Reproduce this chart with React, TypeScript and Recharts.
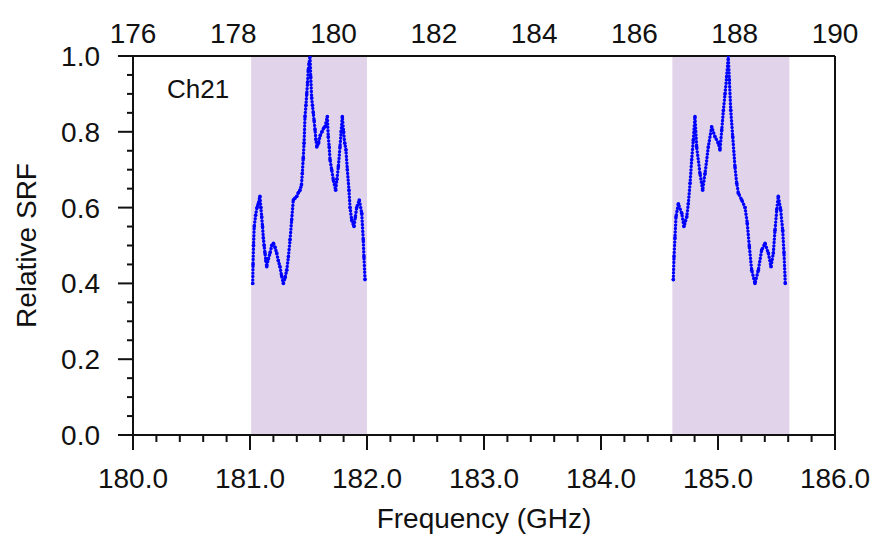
import { ComposedChart, Line, ReferenceArea, ReferenceLine, XAxis, YAxis } from "recharts";

const FONT = "'Liberation Sans', Arial, Helvetica, sans-serif";
const INK = "#111";
const BLUE = "#0000ff";
const BAND = "#e0d3ea";

const channel = "Ch21";

// lower sideband, GHz / relative SRF
const lowerFreq = [
  181.023, 181.026, 181.03, 181.036, 181.048, 181.06, 181.071, 181.085, 181.093, 181.1,
  181.107, 181.114, 181.121, 181.128, 181.136, 181.143, 181.157, 181.171, 181.186, 181.2,
  181.214, 181.228, 181.242, 181.256, 181.27, 181.285, 181.3, 181.314, 181.328, 181.342,
  181.356, 181.37, 181.385, 181.4, 181.414, 181.427, 181.44, 181.447, 181.455, 181.462,
  181.47, 181.478, 181.485, 181.492, 181.498, 181.505, 181.513, 181.519, 181.527, 181.534,
  181.541, 181.548, 181.556, 181.563, 181.571, 181.585, 181.6, 181.615, 181.63, 181.641,
  181.661, 181.669, 181.677, 181.684, 181.698, 181.712, 181.732, 181.743, 181.755, 181.769,
  181.779, 181.789, 181.8, 181.81, 181.82, 181.832, 181.846, 181.855, 181.869, 181.889,
  181.9, 181.912, 181.934, 181.955, 181.968, 181.974, 181.983,
];
const lowerSrf = [
  0.4, 0.45, 0.5, 0.55, 0.58, 0.6, 0.61, 0.63, 0.6, 0.576,
  0.55, 0.52, 0.5, 0.48, 0.46, 0.444, 0.465, 0.48, 0.5, 0.506,
  0.495, 0.48, 0.46, 0.444, 0.42, 0.4, 0.415, 0.435, 0.47, 0.515,
  0.567, 0.62, 0.625, 0.63, 0.64, 0.646, 0.66, 0.69, 0.73, 0.77,
  0.84, 0.87, 0.9, 0.93, 0.963, 0.98, 1.0, 0.945, 0.89, 0.87,
  0.85, 0.83, 0.805, 0.78, 0.76, 0.77, 0.79, 0.8, 0.81, 0.813,
  0.84, 0.787, 0.76, 0.726, 0.7, 0.673, 0.646, 0.675, 0.708, 0.76,
  0.8, 0.84, 0.8, 0.77, 0.752, 0.7, 0.646, 0.6, 0.567, 0.55,
  0.575, 0.6, 0.62, 0.585, 0.515, 0.47, 0.41,
];

// upper sideband
const upperFreq = [
  184.618, 184.624, 184.632, 184.641, 184.661, 184.69, 184.709, 184.733, 184.746, 184.761,
  184.775, 184.789, 184.803, 184.818, 184.846, 184.869, 184.889, 184.917, 184.946, 184.974,
  185.003, 185.017, 185.032, 185.046, 185.06, 185.074, 185.088, 185.097, 185.109, 185.126,
  185.145, 185.16, 185.174, 185.203, 185.231, 185.25, 185.268, 185.288, 185.316, 185.345,
  185.373, 185.402, 185.43, 185.453, 185.473, 185.487, 185.502, 185.515, 185.536, 185.553,
  185.564, 185.575,
];
const upperSrf = [
  0.41, 0.47, 0.52, 0.576, 0.61, 0.585, 0.55, 0.576, 0.61, 0.664,
  0.726, 0.778, 0.84, 0.76, 0.69, 0.646, 0.69, 0.76, 0.813, 0.787,
  0.77, 0.752, 0.805, 0.857, 0.9, 0.945, 1.0, 0.937, 0.857, 0.787,
  0.708, 0.664, 0.638, 0.62, 0.6, 0.559, 0.497, 0.435, 0.4, 0.435,
  0.488, 0.506, 0.48, 0.444, 0.48, 0.54, 0.594, 0.63, 0.594, 0.54,
  0.48, 0.4,
];

const lowerBand = [181.01, 182.0];
const upperBand = [184.61, 185.61];

const freqTicks = [
  180, 180.2, 180.4, 180.6, 180.8, 181, 181.2, 181.4, 181.6, 181.8, 182,
  182.2, 182.4, 182.6, 182.8, 183, 183.2, 183.4, 183.6, 183.8, 184,
  184.2, 184.4, 184.6, 184.8, 185, 185.2, 185.4, 185.6, 185.8, 186,
];
const freqLabels = [180, 181, 182, 183, 184, 185, 186];
const topTicks = [176, 178, 180, 182, 184, 186, 188, 190];
const srfTicks = [
  0, 0.05, 0.1, 0.15, 0.2, 0.25, 0.3, 0.35, 0.4, 0.45, 0.5,
  0.55, 0.6, 0.65, 0.7, 0.75, 0.8, 0.85, 0.9, 0.95, 1,
];
const srfLabels = [0, 0.2, 0.4, 0.6, 0.8, 1];

const lower = lowerFreq.map((f, i) => ({ f, srf: lowerSrf[i] }));
const upper = upperFreq.map((f, i) => ({ f, srf: upperSrf[i] }));
// carries the top axis' range only, draws nothing
const topScale = topTicks.map(f => ({ f, srf: null }));

const isIn = (list: number[], v: number) => list.some(l => Math.abs(l - v) < 1e-6);

function LeftTick(props: any) {
  const { x, y, payload } = props;
  const major = isIn(srfLabels, payload.value);
  return (
    <g>
      <line x1={x - (major ? 15 : 6)} x2={x} y1={y} y2={y} stroke={INK} strokeWidth={2} />
      {major && (
        <text x={x - 33} y={y + 10} textAnchor="end" fontSize={28} fontFamily={FONT} fill={INK}>
          {payload.value.toFixed(1)}
        </text>
      )}
    </g>
  );
}

function BottomTick(props: any) {
  const { x, y, payload } = props;
  const major = isIn(freqLabels, payload.value);
  return (
    <g>
      <line x1={x} x2={x} y1={y} y2={y + (major ? 15 : 7)} stroke={INK} strokeWidth={2} />
      {major && (
        <text x={x} y={y + 53} textAnchor="middle" fontSize={28} fontFamily={FONT} fill={INK}>
          {payload.value.toFixed(1)}
        </text>
      )}
    </g>
  );
}

function TopTick(props: any) {
  const { x, y, payload } = props;
  return (
    <text x={x} y={y - 13} textAnchor="middle" fontSize={28} fontFamily={FONT} fill={INK}>
      {payload.value}
    </text>
  );
}

export default function App() {
  const axisLine = { stroke: INK, strokeWidth: 2 };
  const srfLine = {
    xAxisId: "bottom",
    yAxisId: "srf",
    dataKey: "srf",
    type: "linear" as const,
    stroke: BLUE,
    strokeWidth: 3.4,
    strokeDasharray: "0.01 3.4",
    strokeLinecap: "round" as const,
    dot: { r: 1.8, fill: BLUE, stroke: "none" },
    isAnimationActive: false,
  };
  return (
    <div style={{ position: "absolute", left: 0, top: 0, width: 874, height: 539, background: "#fff" }}>
      <ComposedChart width={874} height={539} margin={{ top: 0, right: 39, bottom: 0, left: 0 }}>
        <XAxis
          xAxisId="bottom"
          type="number"
          dataKey="f"
          domain={[180, 186]}
          ticks={freqTicks}
          interval={0}
          allowDataOverflow
          height={104}
          tickSize={0}
          tickMargin={0}
          tickLine={false}
          axisLine={axisLine}
          tick={<BottomTick />}
          label={{
            content: (p: any) => (
              <text
                x={p.viewBox.x + p.viewBox.width / 2}
                y={p.viewBox.y + 93}
                textAnchor="middle"
                fontSize={28}
                fontFamily={FONT}
                fill={INK}
              >
                Frequency (GHz)
              </text>
            ),
          }}
        />
        <XAxis
          xAxisId="top"
          orientation="top"
          type="number"
          dataKey="f"
          domain={[176, 190]}
          ticks={topTicks}
          interval={0}
          allowDataOverflow
          height={56}
          tickSize={0}
          tickMargin={0}
          tickLine={false}
          axisLine={axisLine}
          tick={<TopTick />}
        />
        <YAxis
          yAxisId="srf"
          type="number"
          domain={[0, 1]}
          ticks={srfTicks}
          interval={0}
          allowDataOverflow
          width={133}
          tickSize={0}
          tickMargin={0}
          tickLine={false}
          axisLine={axisLine}
          tick={<LeftTick />}
          label={{
            content: (p: any) => {
              const cx = p.viewBox.x + 26;
              const cy = p.viewBox.y + p.viewBox.height / 2;
              return (
                <text
                  x={cx}
                  y={cy}
                  transform={`rotate(-90, ${cx}, ${cy})`}
                  textAnchor="middle"
                  dominantBaseline="central"
                  fontSize={28}
                  fontFamily={FONT}
                  fill={INK}
                >
                  Relative SRF
                </text>
              );
            },
          }}
        />
        <ReferenceArea xAxisId="bottom" yAxisId="srf" x1={lowerBand[0]} x2={lowerBand[1]} y1={0} y2={1} fill={BAND} fillOpacity={1} stroke="none" />
        <ReferenceArea xAxisId="bottom" yAxisId="srf" x1={upperBand[0]} x2={upperBand[1]} y1={0} y2={1} fill={BAND} fillOpacity={1} stroke="none" />
        <ReferenceLine xAxisId="bottom" yAxisId="srf" x={186} stroke={INK} strokeWidth={2} />
        <Line
          xAxisId="top"
          yAxisId="srf"
          data={topScale}
          dataKey="srf"
          stroke="none"
          dot={false}
          activeDot={false}
          isAnimationActive={false}
        />
        <Line {...srfLine} data={lower} />
        <Line {...srfLine} data={upper} />
        <text x={167} y={98} fontSize={26} fontFamily={FONT} fill={INK}>
          {channel}
        </text>
      </ComposedChart>
    </div>
  );
}
